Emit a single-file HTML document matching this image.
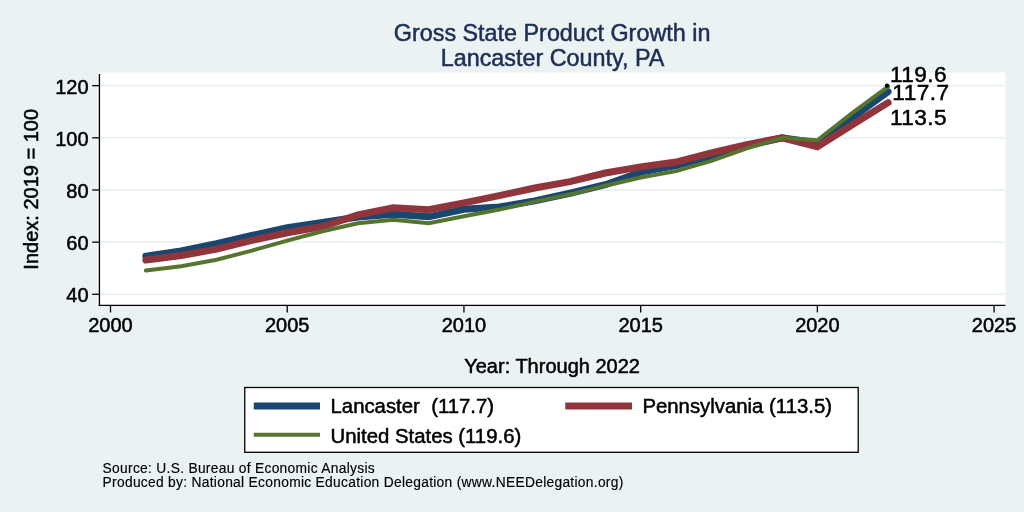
<!DOCTYPE html>
<html lang="en">
<head>
<meta charset="utf-8">
<title>Gross State Product Growth in Lancaster County, PA</title>
<style>
html,body{margin:0;padding:0;background:#eaf2f3;}
body{width:1024px;height:512px;overflow:hidden;}
svg{display:block;}
text{font-family:"Liberation Sans", "Helvetica", "Arial", sans-serif;stroke-width:0.5px;stroke-linejoin:round;}
text.k{stroke:#000;}
text.t{stroke:#1e2d53;}
text.n{stroke:#000;stroke-width:0.15px;}
</style>
</head>
<body>
<svg width="1024" height="512" viewBox="0 0 1024 512">
<rect x="0" y="0" width="1024" height="512" fill="#eaf2f3"/>
<rect x="97.5" y="72.5" width="907.9" height="233.6" fill="#ffffff"/>

<line x1="99" x2="1005.4" y1="294.30" y2="294.30" stroke="#eaf2f3" stroke-width="1.9"/>
<line x1="99" x2="1005.4" y1="242.14" y2="242.14" stroke="#eaf2f3" stroke-width="1.9"/>
<line x1="99" x2="1005.4" y1="189.98" y2="189.98" stroke="#eaf2f3" stroke-width="1.9"/>
<line x1="99" x2="1005.4" y1="137.82" y2="137.82" stroke="#eaf2f3" stroke-width="1.9"/>
<line x1="99" x2="1005.4" y1="85.66" y2="85.66" stroke="#eaf2f3" stroke-width="1.9"/>
<polyline points="145.84,256.22 181.19,250.88 216.53,243.70 251.88,235.49 287.22,227.80 322.56,222.45 357.91,216.97 393.25,214.23 428.60,216.84 463.94,209.28 499.28,207.06 534.63,200.93 569.97,193.24 605.32,184.76 640.66,172.09 676.00,165.46 711.35,156.08 746.69,145.90 782.04,137.82 817.38,143.04 852.72,117.48 888.07,91.66" fill="none" stroke="#1a476f" stroke-width="7.0" stroke-linecap="round" stroke-linejoin="miter"/>
<polyline points="145.84,259.95 181.19,255.44 216.53,249.18 251.88,240.31 287.22,232.75 322.56,226.49 357.91,214.91 393.25,207.71 428.60,209.67 463.94,202.89 499.28,195.59 534.63,188.02 569.97,181.63 605.32,173.03 640.66,166.90 676.00,162.07 711.35,152.82 746.69,144.60 782.04,137.82 817.38,146.69 852.72,124.52 888.07,102.61" fill="none" stroke="#90353b" stroke-width="7.0" stroke-linecap="round" stroke-linejoin="miter"/>
<polyline points="145.84,270.39 181.19,266.18 216.53,259.79 251.88,250.57 287.22,240.61 322.56,231.20 357.91,223.22 393.25,219.64 428.60,223.17 463.94,216.25 499.28,209.58 534.63,201.65 569.97,194.32 605.32,185.76 640.66,177.57 676.00,171.13 711.35,160.96 746.69,148.30 782.04,137.82 817.38,140.22 852.72,112.70 888.07,86.65" fill="none" stroke="#55752f" stroke-width="4.0" stroke-linecap="round" stroke-linejoin="miter"/>
<circle cx="887" cy="85.6" r="2.2" fill="#000"/>
<line x1="99.4" x2="99.4" y1="74" y2="306.1" stroke="#000" stroke-width="1.4"/>
<line x1="98.7" x2="1005.4" y1="305.4" y2="305.4" stroke="#000" stroke-width="1.4"/>
<line x1="92.2" x2="99.5" y1="294.30" y2="294.30" stroke="#000" stroke-width="1.3"/>
<text x="88.6" y="302.30" font-size="20" text-anchor="end" fill="#000" class="k">40</text>
<line x1="92.2" x2="99.5" y1="242.14" y2="242.14" stroke="#000" stroke-width="1.3"/>
<text x="88.6" y="250.14" font-size="20" text-anchor="end" fill="#000" class="k">60</text>
<line x1="92.2" x2="99.5" y1="189.98" y2="189.98" stroke="#000" stroke-width="1.3"/>
<text x="88.6" y="197.98" font-size="20" text-anchor="end" fill="#000" class="k">80</text>
<line x1="92.2" x2="99.5" y1="137.82" y2="137.82" stroke="#000" stroke-width="1.3"/>
<text x="88.6" y="145.82" font-size="20" text-anchor="end" fill="#000" class="k">100</text>
<line x1="92.2" x2="99.5" y1="85.66" y2="85.66" stroke="#000" stroke-width="1.3"/>
<text x="88.6" y="93.66" font-size="20" text-anchor="end" fill="#000" class="k">120</text>
<line x1="110.50" x2="110.50" y1="305.4" y2="312.4" stroke="#000" stroke-width="1.3"/>
<text x="110.50" y="332.2" font-size="20" text-anchor="middle" fill="#000" class="k">2000</text>
<line x1="287.22" x2="287.22" y1="305.4" y2="312.4" stroke="#000" stroke-width="1.3"/>
<text x="287.22" y="332.2" font-size="20" text-anchor="middle" fill="#000" class="k">2005</text>
<line x1="463.94" x2="463.94" y1="305.4" y2="312.4" stroke="#000" stroke-width="1.3"/>
<text x="463.94" y="332.2" font-size="20" text-anchor="middle" fill="#000" class="k">2010</text>
<line x1="640.66" x2="640.66" y1="305.4" y2="312.4" stroke="#000" stroke-width="1.3"/>
<text x="640.66" y="332.2" font-size="20" text-anchor="middle" fill="#000" class="k">2015</text>
<line x1="817.38" x2="817.38" y1="305.4" y2="312.4" stroke="#000" stroke-width="1.3"/>
<text x="817.38" y="332.2" font-size="20" text-anchor="middle" fill="#000" class="k">2020</text>
<line x1="994.10" x2="994.10" y1="305.4" y2="312.4" stroke="#000" stroke-width="1.3"/>
<text x="994.10" y="332.2" font-size="20" text-anchor="middle" fill="#000" class="k">2025</text>
<text x="890" y="82.4" font-size="22.6" letter-spacing="0.45" fill="#000" class="k">119.6</text>
<text x="892.3" y="100.4" font-size="22.6" letter-spacing="0.45" fill="#000" class="k">117.7</text>
<text x="890" y="125" font-size="22.6" letter-spacing="0.45" fill="#000" class="k">113.5</text>
<text x="552.1" y="40.5" font-size="23.35" text-anchor="middle" fill="#1e2d53" class="t">Gross State Product Growth in</text>
<text x="552.5" y="65.5" font-size="23.35" text-anchor="middle" fill="#1e2d53" class="t">Lancaster County, PA</text>
<text transform="translate(37.9,189.3) rotate(-90)" font-size="20" text-anchor="middle" fill="#000" class="k">Index: 2019 = 100</text>
<text x="552.1" y="373" font-size="20" text-anchor="middle" fill="#000" class="k">Year: Through 2022</text>
<rect x="244.75" y="387.5" width="613.45" height="64.8" fill="#ffffff" stroke="#000" stroke-width="1.3"/>
<line x1="253.75" x2="320" y1="406.1" y2="406.1" stroke="#1a476f" stroke-width="7.0"/>
<line x1="565.25" x2="632" y1="406.1" y2="406.1" stroke="#90353b" stroke-width="7.0"/>
<line x1="253.75" x2="320" y1="434.7" y2="434.7" stroke="#55752f" stroke-width="4.0"/>
<text x="330.5" y="413.4" font-size="20.35" fill="#000" class="k" style="white-space:pre">Lancaster  (117.7)</text>
<text x="642.4" y="413.4" font-size="20.35" fill="#000" class="k">Pennsylvania (113.5)</text>
<text x="330.5" y="442.7" font-size="20.35" fill="#000" class="k">United States (119.6)</text>
<text x="102.6" y="472.7" font-size="13.8" letter-spacing="0.29" fill="#000" class="n">Source: U.S. Bureau of Economic Analysis</text>
<text x="102.6" y="486.5" font-size="13.8" letter-spacing="0.29" fill="#000" class="n">Produced by: National Economic Education Delegation (www.NEEDelegation.org)</text>
</svg>
</body>
</html>
